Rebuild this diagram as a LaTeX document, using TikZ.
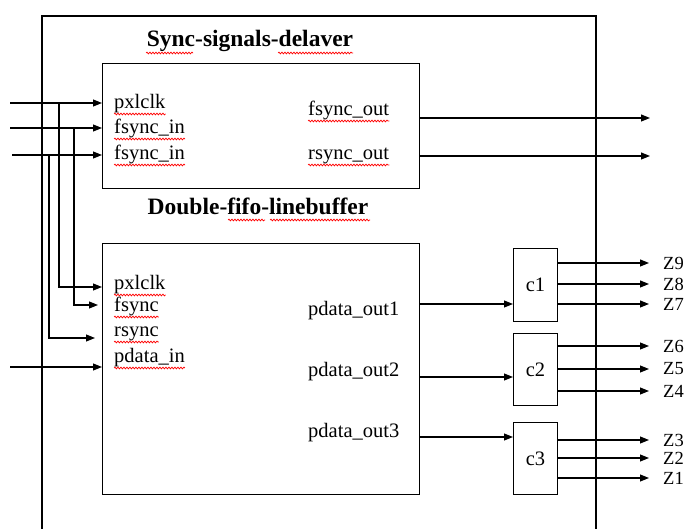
\documentclass[tikz,border=0pt]{standalone}
\usepackage{fontspec}
\setmainfont{Liberation Serif}
\usetikzlibrary{arrows.meta,decorations.pathmorphing}
\begin{document}
\begin{tikzpicture}[x=1pt,y=-1pt,
  wire/.style={line width=1.1pt},
  arr/.style={wire,-{Triangle[length=9pt,width=7pt]}},
  blk/.style={draw,line width=1.1pt,anchor=north west,inner sep=0},
  lbl/.style={anchor=base west,inner sep=0,font=\fontsize{20.5}{24}\selectfont},
  ttl/.style={anchor=base,inner sep=0,font=\fontsize{23.5}{28}\selectfont\bfseries},
  zlbl/.style={anchor=west,inner sep=0,font=\fontsize{18.5}{22}\selectfont},
  spell/.style={draw=red,line width=0.7pt,decorate,
    decoration={snake,amplitude=0.9pt,segment length=3pt}}]
\useasboundingbox (0,0) rectangle (686,529);

% enclosing frame, open at the bottom
\draw[wire] (42,529) -- (42,16) -- (596,16) -- (596,529);

% blocks
\node[blk,minimum width=317pt,minimum height=125pt] (sync) at (102,63) {};
\node[blk,minimum width=317pt,minimum height=251pt] (dbl) at (102,243) {};
\node[blk,minimum width=44pt,minimum height=73pt,font=\fontsize{20.5}{24}\selectfont] (c1) at (513,248) {c1};
\node[blk,minimum width=44pt,minimum height=72pt,font=\fontsize{20.5}{24}\selectfont] (c2) at (513,333) {c2};
\node[blk,minimum width=44pt,minimum height=72pt,font=\fontsize{20.5}{24}\selectfont] (c3) at (513,422) {c3};

% titles
\node[ttl] (tsync) at (250,47) {Sync-signals-delaver};
\node[ttl] (tdbl) at (258,215) {Double-fifo-linebuffer};

% port labels
\node[lbl] (s1) at (114,109) {pxlclk};
\node[lbl] (s2) at (114,134) {fsync\_in};
\node[lbl] (s3) at (114,160) {fsync\_in};
\node[lbl] (s4) at (308,116) {fsync\_out};
\node[lbl] (s5) at (308,160) {rsync\_out};
\node[lbl] (d1) at (114,290) {pxlclk};
\node[lbl] (d2) at (114,312) {fsync};
\node[lbl] (d3) at (114,337) {rsync};
\node[lbl] (d4) at (114,363) {pdata\_in};
\node[lbl] (o1) at (308,316) {pdata\_out1};
\node[lbl] (o2) at (308,377) {pdata\_out2};
\node[lbl] (o3) at (308,438) {pdata\_out3};

% spell-check marks
\foreach \n in {s1,s2,s3,s4,s5,d1,d2,d3,d4}
  \draw[spell] ([yshift=-5pt]\n.base west) -- ([yshift=-5pt]\n.base east);
\draw[spell] (146,53) -- (193,53);
\draw[spell] (278,53) -- (353,53);
\draw[spell] (228,220) -- (265,220);
\draw[spell] (270,220) -- (370,220);

% external inputs
\coordinate (i1) at (10,103);
\coordinate (i2) at (10,128);
\coordinate (i3) at (12,155);
\coordinate (i4) at (10,367);
\draw[arr] (i1) -- (i1 -| sync.west);
\draw[arr] (i2) -- (i2 -| sync.west);
\draw[arr] (i3) -- (i3 -| sync.west);
\draw[arr] (i4) -- (i4 -| dbl.west);

% branches down to the line buffer
\coordinate (j1) at (59,103);
\coordinate (j2) at (74,128);
\coordinate (j3) at (49,155);
\coordinate (p1) at (102,287);
\coordinate (p2) at (98,305);
\coordinate (p3) at (95,338);
\draw[arr] (j1) |- (p1);
\draw[arr] (j2) |- (p2);
\draw[arr] (j3) |- (p3);

% sync outputs
\coordinate (e1) at (650,118);
\coordinate (e2) at (650,156);
\draw[arr] (e1 -| sync.east) -- (e1);
\draw[arr] (e2 -| sync.east) -- (e2);

% line buffer to converters
\draw[arr] (dbl.east |- 0,304) -- (c1.west |- 0,304);
\draw[arr] (dbl.east |- 0,377) -- (c2.west |- 0,377);
\draw[arr] (dbl.east |- 0,437) -- (c3.west |- 0,437);

% converter outputs
\foreach \c/\y/\z in {c1/263/Z9,c1/284/Z8,c1/304/Z7,
                      c2/346/Z6,c2/369/Z5,c2/391/Z4,
                      c3/440/Z3,c3/458/Z2,c3/478/Z1}{
  \coordinate (z\z) at (649,\y);
  \draw[arr] (\c.east |- z\z) -- (z\z);
  \node[zlbl] (l\z) at (663,\y) {\z};
}
\end{tikzpicture}
\end{document}
